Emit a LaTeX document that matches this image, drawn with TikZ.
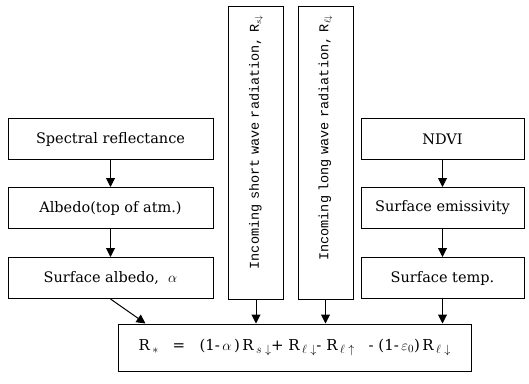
\documentclass[tikz,border=0pt]{standalone}
\usepackage{fontspec}
\setmainfont{DejaVu Serif}
\newfontfamily\vmono{Liberation Mono}
\usepackage{tikz}
\usetikzlibrary{calc,arrows.meta}
\tikzset{>={Triangle[width=9pt,length=9pt]}}
\newcommand{\rsub}[1]{\raisebox{-0.4ex}{\fontsize{12pt}{12pt}\selectfont$#1$}}
\tikzset{
  flowbox/.style={draw,line width=1pt,minimum width=205pt,minimum height=41pt,inner sep=0pt,font=\fontsize{14.5pt}{17pt}\selectfont},
  inbox/.style={draw,line width=1pt,minimum height=55pt,inner ysep=0pt,inner xsep=9pt,text width=275pt,align=right,rotate=90,font=\vmono\fontsize{13.5pt}{15pt}\selectfont},
  flowarrow/.style={->,line width=1pt}
}

\begin{document}
\begin{tikzpicture}[x=1pt,y=-1pt]
\useasboundingbox (0,0) rectangle (529,383);
    \node[flowbox] (spec) at (110.5,139){Spectral reflectance};
    \node[flowbox] (albtop) at (110.5,208){Albedo(top of atm.)};
    \node[flowbox] (albsurf) at (110.5,278){Surface albedo,\ \ $\alpha$};
    \node[inbox] (swin) at (256,152.5){Incoming short wave radiation, R$_{s\downarrow}$};
    \node[inbox] (lwin) at (325.5,152.5){Incoming long wave radiation, R$_{\ell\downarrow}$};
    \node[flowbox,minimum width=163pt] (ndvi) at (442.5,139){NDVI};
    \node[flowbox,minimum width=163pt] (emis) at (442.5,208){Surface emissivity};
    \node[flowbox,minimum width=163pt] (tsurf) at (442.5,278){Surface temp.};
    \node[flowbox,minimum width=353pt,minimum height=47pt,font=\fontsize{15pt}{17pt}\selectfont] (netrad) at (294.5,347.5)
      {R\,\rsub{*}\ \ \ =\ \ \ (1-\,$\alpha$\,)\,R\,\rsub{s\downarrow}+\ R\,\rsub{\ell\downarrow}-\ R\,\rsub{\ell\uparrow}\ \ \ -\ (1-\,$\varepsilon_0$)\,R\,\rsub{\ell\downarrow}};
    \coordinate (albin) at ($(netrad.north west)+(28,0)$);
    \draw[flowarrow] (spec) -- (albtop);
    \draw[flowarrow] (albtop) -- (albsurf);
    \draw[flowarrow] (ndvi) -- (emis);
    \draw[flowarrow] (emis) -- (tsurf);
    \draw[flowarrow] (albsurf.south) -- (albin);
    \draw[flowarrow] (swin.west) -- (swin.west|-netrad.north);
    \draw[flowarrow] (lwin.west) -- (lwin.west|-netrad.north);
    \draw[flowarrow] (tsurf.south) -- (tsurf.south|-netrad.north);
    \end{tikzpicture}
\end{document}
